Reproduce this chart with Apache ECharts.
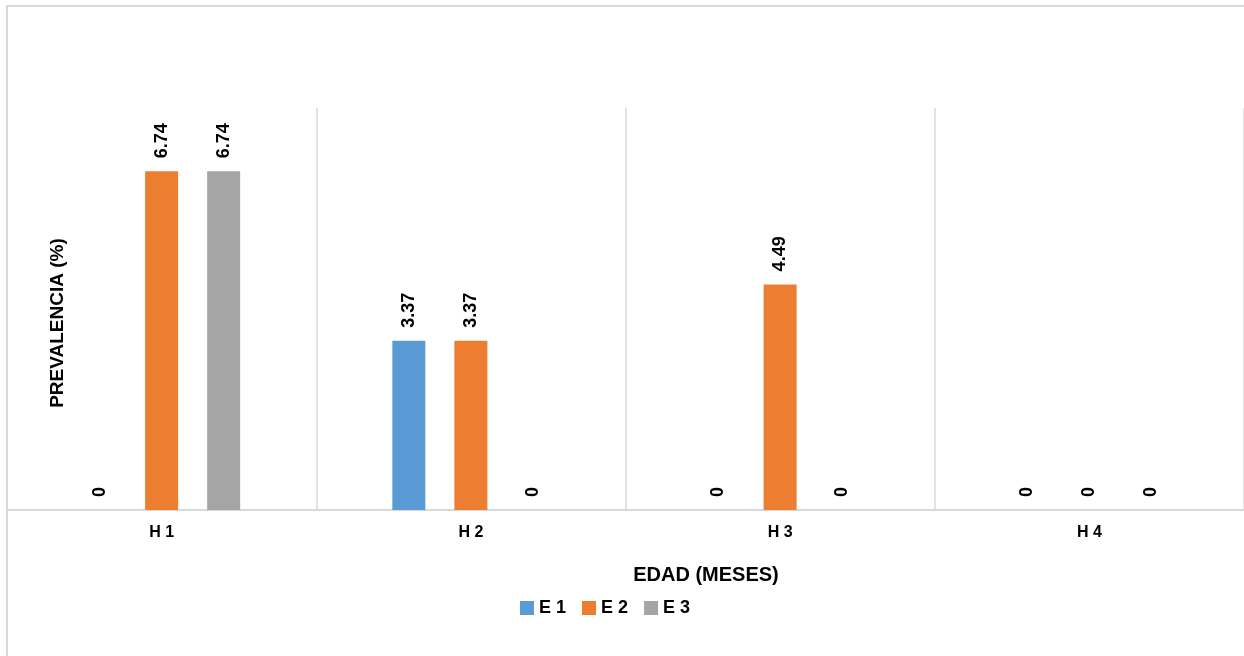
<!DOCTYPE html>
<html>
<head>
<meta charset="utf-8">
<script src="https://cdn.jsdelivr.net/npm/echarts@6/dist/echarts.min.js"></script>
<style>
  html, body { margin: 0; padding: 0; background: #fff; }
  #chart { width: 1244px; height: 656px; }
</style>
</head>
<body>
<div id="chart"></div>
<script>
// Prevalencia por edad (meses) y grupo
const categories = ['H 1', 'H 2', 'H 3', 'H 4'];
const seriesNames = ['E 1', 'E 2', 'E 3'];
const e1Values = [0, 3.37, 0, 0];
const e2Values = [6.74, 3.37, 4.49, 0];
const e3Values = [6.74, 0, 0, 0];
const colors = ['#5b9bd5', '#ed7d31', '#a5a5a5'];

const FONT = '"Liberation Sans", Arial, sans-serif';
const chart = echarts.init(document.getElementById('chart'));

function barSeries(name, data, color) {
  return {
    name: name,
    type: 'bar',
    data: data,
    barWidth: 33,
    barGap: '88%',
    itemStyle: { color: color },
    label: {
      show: true,
      position: 'top',
      rotate: 90,
      align: 'left',
      verticalAlign: 'middle',
      distance: 13,
      fontFamily: FONT,
      fontWeight: 'bold',
      fontSize: 18,
      color: '#000',
      formatter: p => String(p.value)
    }
  };
}

chart.setOption({
  animation: false,
  color: colors,
  grid: { left: 7, right: -3, top: 108, bottom: 146 },
  legend: {
    data: seriesNames,
    left: 515,
    top: 594,
    icon: 'rect',
    itemWidth: 14,
    itemHeight: 14,
    itemGap: 16,
    textStyle: { fontFamily: FONT, fontWeight: 'bold', fontSize: 18, color: '#000' }
  },
  xAxis: {
    type: 'category',
    data: categories,
    axisTick: { show: false },
    axisLine: { lineStyle: { color: '#d9d9d9', width: 2 } },
    splitLine: { show: true, lineStyle: { color: '#d9d9d9', width: 1.5 } },
    axisLabel: { margin: 15, fontFamily: FONT, fontWeight: 'bold', fontSize: 16, color: '#000' }
  },
  yAxis: {
    type: 'value',
    min: 0,
    max: 8,
    interval: 1,
    axisLabel: { show: false },
    axisLine: { show: false },
    axisTick: { show: false },
    splitLine: { show: false }
  },
  graphic: [
    {
      type: 'rect',
      silent: true,
      shape: { x: 7, y: 6, width: 1300, height: 700 },
      style: { fill: 'none', stroke: '#d9d9d9', lineWidth: 2 }
    },
    {
      type: 'text',
      x: 706,
      y: 575,
      style: {
        text: 'EDAD (MESES)',
        fontFamily: FONT, fontWeight: 'bold', fontSize: 20, fill: '#000',
        textAlign: 'center', textVerticalAlign: 'middle'
      }
    },
    {
      type: 'text',
      x: 58,
      y: 323,
      rotation: Math.PI / 2,
      style: {
        text: 'PREVALENCIA (%)',
        fontFamily: FONT, fontWeight: 'bold', fontSize: 19, fill: '#000',
        textAlign: 'center', textVerticalAlign: 'middle'
      }
    }
  ],
  series: [
    barSeries(seriesNames[0], e1Values, colors[0]),
    barSeries(seriesNames[1], e2Values, colors[1]),
    barSeries(seriesNames[2], e3Values, colors[2])
  ]
});
</script>
</body>
</html>
